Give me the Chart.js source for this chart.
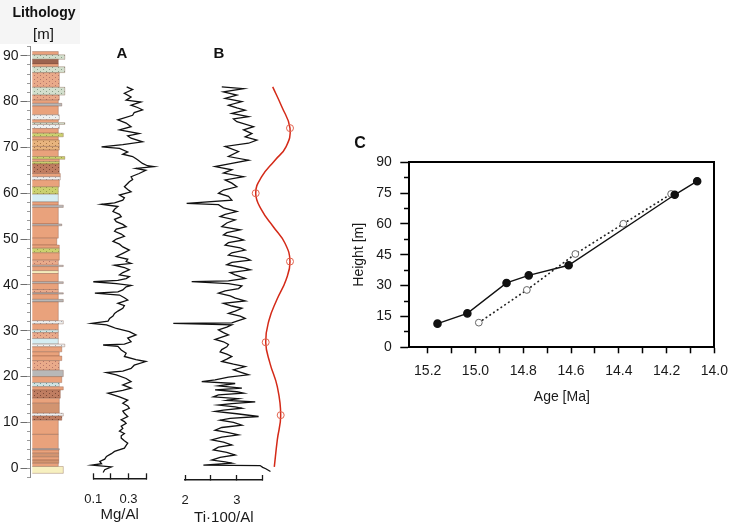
<!DOCTYPE html>
<html>
<head>
<meta charset="utf-8">
<script src="https://cdn.jsdelivr.net/npm/chart.js@4.4.0/dist/chart.umd.min.js"></script>
<style>
body { margin: 0; background: #fff; }
#wrap { position: relative; width: 737px; height: 525px; overflow: hidden; font-family: 'Liberation Sans', Arial, sans-serif; color: #111; }
canvas { position: absolute; left: 0; top: 0; }
.lbl { position: absolute; white-space: nowrap; line-height: 1; transform: translate(-50%, -50%); }
#litBg { position: absolute; left: 0; top: 0; width: 80px; height: 44px; background: #f5f5f5; }
</style>
</head>
<body>
<div id="wrap">
  <div id="litBg"></div>
  <canvas id="litho" width="737" height="560"></canvas>
  <canvas id="mg" width="737" height="560"></canvas>
  <canvas id="ti" width="737" height="560"></canvas>
  <canvas id="cycle" width="737" height="560"></canvas>
  <canvas id="age" width="737" height="560"></canvas>
  <div class="lbl" style="left:44px;top:12px;font-size:14px;font-weight:bold">Lithology</div>
  <div class="lbl" style="left:43.5px;top:33px;font-size:15px">[m]</div>
  <div class="lbl" style="left:122px;top:52px;font-size:15px;font-weight:bold">A</div>
  <div class="lbl" style="left:219px;top:52px;font-size:15px;font-weight:bold">B</div>
  <div class="lbl" style="left:360px;top:143px;font-size:16px;font-weight:bold">C</div>
</div>
<script>
// ---- lithology column (tops in m, base of column at -1.1 m) ----
const columnBase = -1.1;
const bedTop = [
  0.4, 1.1, 1.8, 2.5, 3.3, 4.0, 4.3, 7.4, 10.5, 11.4,
  12.0, 14.2, 15.3, 17.1, 17.8, 18.7, 20.0, 21.4, 23.5, 24.5,
  25.4, 26.5, 27.1, 28.3, 29.6, 30.2, 31.5, 32.2, 36.3, 36.85,
  38.0, 38.3, 39.0, 40.3, 40.7, 42.5, 43.1, 44.0, 44.3, 45.4,
  47.0, 48.0, 48.7, 50.2, 52.9, 53.3, 56.9, 57.4, 58.1, 59.8,
  61.4, 62.9, 63.6, 64.3, 66.4, 66.9, 67.4, 68.0, 69.4, 70.2,
  71.6, 72.3, 73.1, 74.1, 75.0, 75.4, 76.0, 77.1, 79.0, 79.6,
  80.3, 81.4, 83.1, 86.3, 87.6, 88.2, 89.2, 90.2, 90.9
];
const bedType = [
  'yellow', 'mud', 'brownish', 'mud', 'brownish', 'mud', 'gray', 'mud', 'mud', 'brownDot',
  'white', 'brownish', 'mud', 'brownDot', 'mud', 'blueDot', 'mud', 'gray', 'mudDot', 'mud',
  'mud', 'mud', 'white', 'blue', 'mudDot', 'blueDot', 'mud', 'white', 'mud', 'gray',
  'mud', 'gray', 'mudDot', 'mud', 'gray', 'mud', 'yellow', 'mud', 'gray', 'mudDot',
  'mud', 'yellowGreen', 'mud', 'mud', 'mud', 'gray', 'mud', 'gray', 'mud', 'blue',
  'yellowGreen', 'mud', 'white', 'mud', 'brownDot', 'yellowGreen', 'mud', 'yellowGreen', 'mud', 'tanDot',
  'tanDot', 'mud', 'yellowGreen', 'mud', 'white', 'greenDot', 'mud', 'white', 'mud', 'gray',
  'mud', 'mudDot', 'greenDot', 'mudDot', 'greenDot', 'mud', 'brown', 'greenDot', 'mud'
];
const bedSize = [
  6.2, 5.2, 5.3, 5.3, 5.3, 5.3, 5.4, 5.2, 5.2, 5.9,
  6.2, 5.4, 5.4, 5.6, 6.2, 5.4, 5.9, 6.2, 5.4, 5.9,
  5.4, 5.9, 6.5, 5.2, 5.2, 5.2, 5.2, 6.2, 5.2, 6.2,
  5.2, 6.2, 5.2, 5.2, 6.2, 5.2, 5.2, 5.2, 6.2, 5.2,
  5.4, 5.4, 5.4, 4.9, 5.2, 5.9, 5.2, 6.2, 5.2, 5.2,
  5.2, 5.4, 5.6, 5.6, 5.4, 5.4, 5.4, 6.5, 5.2, 5.4,
  5.4, 5.2, 6.2, 5.2, 5.4, 6.5, 5.2, 5.4, 5.2, 5.9,
  5.2, 5.4, 6.5, 5.4, 6.5, 5.2, 5.2, 6.5, 5.2
];
const heightTicks = [0, 10, 20, 30, 40, 50, 60, 70, 80, 90];

// ---- A: Mg/Al ----
const mgHeight = [
  83.2, 82.6, 81.8, 81.0, 80.3, 79.9, 79.2, 78.7, 78.2, 77.6,
  77.0, 76.0, 75.3, 74.5, 73.8, 73.0, 72.5, 72.0, 71.2, 70.6,
  70.1, 69.8, 69.0, 68.5, 68.0, 67.3, 66.5, 66.0, 65.8, 65.4,
  65.0, 64.3, 63.6, 63.0, 62.5, 61.8, 61.4, 60.8, 60.3, 59.6,
  59.0, 58.5, 57.9, 57.6, 57.1, 56.5, 56.0, 55.4, 54.9, 54.3,
  53.8, 53.2, 52.7, 52.2, 51.7, 51.1, 50.6, 50.0, 49.5, 48.9,
  48.3, 47.6, 46.9, 46.2, 45.6, 45.1, 44.7, 44.3, 43.8, 43.3,
  42.7, 42.2, 41.8, 41.4, 41.0, 40.7, 40.3, 39.9, 39.6, 38.9,
  38.5, 38.2, 37.8, 37.2, 36.7, 36.0, 35.5, 34.9, 34.3, 33.8,
  33.2, 32.7, 32.1, 31.6, 31.3, 30.9, 30.5, 29.8, 29.1, 28.4,
  27.6, 27.1, 26.9, 26.6, 25.8, 25.1, 24.4, 23.7, 23.3, 22.5,
  21.8, 21.2, 20.9, 20.4, 19.6, 18.9, 18.2, 17.5, 17.0, 16.4,
  15.6, 14.9, 14.2, 13.6, 13.1, 12.5, 12.0, 11.3, 10.6, 10.2,
  9.8, 9.2, 8.7, 8.1, 7.6, 7.1, 6.6, 6.0, 5.5, 5.0,
  4.4, 3.7, 3.2, 2.6, 2.0, 1.5, 1.0, 0.7, 0.3, -0.3,
  -0.9
];
const mgAl = [
  0.290, 0.324, 0.277, 0.315, 0.287, 0.371, 0.315, 0.352, 0.380, 0.333,
  0.324, 0.240, 0.287, 0.315, 0.249, 0.361, 0.296, 0.315, 0.380, 0.268,
  0.147, 0.249, 0.296, 0.268, 0.324, 0.352, 0.380, 0.408, 0.445, 0.343,
  0.399, 0.361, 0.315, 0.324, 0.305, 0.287, 0.277, 0.296, 0.315, 0.249,
  0.277, 0.268, 0.221, 0.147, 0.240, 0.221, 0.212, 0.249, 0.259, 0.221,
  0.231, 0.268, 0.287, 0.231, 0.221, 0.259, 0.277, 0.231, 0.212, 0.249,
  0.268, 0.305, 0.268, 0.231, 0.296, 0.287, 0.315, 0.221, 0.277, 0.305,
  0.268, 0.249, 0.305, 0.287, 0.240, 0.100, 0.231, 0.315, 0.287, 0.268,
  0.240, 0.109, 0.249, 0.277, 0.296, 0.240, 0.277, 0.268, 0.240, 0.221,
  0.212, 0.193, 0.184, 0.091, 0.175, 0.203, 0.231, 0.305, 0.343, 0.296,
  0.315, 0.277, 0.156, 0.240, 0.259, 0.287, 0.277, 0.343, 0.399, 0.333,
  0.315, 0.268, 0.175, 0.231, 0.287, 0.315, 0.268, 0.315, 0.268, 0.184,
  0.249, 0.296, 0.268, 0.296, 0.305, 0.268, 0.277, 0.296, 0.259, 0.277,
  0.287, 0.259, 0.268, 0.249, 0.277, 0.259, 0.259, 0.277, 0.296, 0.287,
  0.277, 0.221, 0.203, 0.175, 0.165, 0.137, 0.147, 0.092, 0.203, 0.165,
  0.156
];
const mgTicks = [0.1, 0.2, 0.3, 0.4];
const mgTickLabels = ['0.1', '', '0.3', ''];

// ---- B: Ti*100/Al ----
const tiHeight = [
  83.2, 82.8, 82.1, 81.4, 80.7, 80.0, 79.2, 78.6, 78.1, 77.4,
  76.7, 76.2, 75.6, 74.5, 73.8, 73.0, 72.3, 71.6, 70.9, 70.2,
  69.1, 68.0, 67.2, 66.5, 65.8, 65.1, 64.4, 63.6, 62.9, 62.2,
  61.4, 60.7, 60.0, 59.3, 58.5, 57.8, 57.5, 56.8, 56.0, 55.4,
  54.9, 54.2, 53.5, 52.7, 52.0, 51.4, 50.9, 50.3, 49.8, 49.2,
  48.7, 48.1, 47.6, 47.0, 46.5, 45.9, 45.4, 44.9, 44.4, 43.8,
  43.3, 42.7, 42.2, 41.4, 40.9, 40.7, 40.3, 39.8, 39.2, 38.7,
  38.2, 37.6, 37.1, 36.5, 36.0, 35.4, 34.9, 34.3, 33.8, 33.2,
  32.7, 32.1, 31.7, 31.6, 31.3, 30.8, 30.2, 29.6, 29.1, 28.6,
  28.1, 27.6, 27.0, 26.5, 25.9, 25.4, 24.9, 24.4, 23.8, 23.3,
  22.7, 22.2, 21.5, 21.0, 20.4, 19.9, 19.3, 18.9, 18.5, 18.0,
  17.5, 17.1, 16.7, 16.4, 16.0, 15.6, 15.2, 14.8, 14.5, 14.1,
  13.8, 13.4, 13.1, 12.7, 12.4, 11.9, 11.3, 10.9, 10.5, 10.0,
  9.4, 8.9, 8.3, 7.8, 7.3, 6.8, 6.2, 5.7, 5.1, 4.6,
  4.0, 3.5, 2.9, 2.4, 1.8, 1.4, 1.1, 0.7, 0.6, 0.2,
  -0.1, -0.7
];
const tiAl = [
  2.710, 3.130, 2.743, 3.001, 2.775, 3.098, 2.839, 3.001, 3.162, 2.904,
  3.227, 2.936, 3.001, 3.324, 3.130, 3.291, 3.162, 3.388, 3.227, 2.775,
  3.033, 2.839, 3.227, 2.904, 2.581, 2.904, 2.743, 3.130, 2.775, 2.904,
  3.001, 2.743, 2.646, 2.839, 2.904, 2.032, 2.646, 2.743, 3.001, 2.775,
  2.678, 2.969, 2.807, 2.710, 3.066, 2.807, 2.743, 3.001, 3.130, 2.839,
  2.775, 3.066, 3.162, 2.904, 2.839, 3.162, 3.259, 2.904, 2.807, 3.098,
  3.259, 2.872, 2.969, 3.162, 2.839, 2.129, 2.839, 3.098, 3.033, 2.775,
  2.646, 2.872, 2.969, 3.162, 2.743, 2.904, 3.098, 2.969, 2.839, 3.066,
  3.162, 3.001, 2.904, 1.774, 2.904, 2.807, 2.646, 2.743, 2.839, 2.710,
  2.581, 2.743, 2.839, 2.807, 2.710, 2.678, 2.807, 2.904, 2.807, 2.710,
  2.936, 3.162, 2.936, 3.066, 3.227, 2.839, 2.581, 2.323, 2.969, 2.646,
  3.098, 2.581, 3.001, 3.130, 2.646, 2.549, 3.033, 2.807, 3.356, 2.904,
  2.646, 2.969, 3.098, 2.743, 2.581, 3.001, 3.421, 2.872, 2.678, 2.936,
  3.098, 2.710, 2.581, 2.839, 3.033, 2.710, 2.517, 2.743, 2.904, 2.646,
  2.549, 2.807, 2.969, 2.678, 2.517, 2.775, 2.904, 2.355, 3.450, 3.500,
  3.560, 3.650
];
const tiTicks = [2, 2.5, 3, 3.5];
const tiTickLabels = ['2', '', '3', ''];

// ---- tuning curve next to B (relative amplitude, no axis) ----
const cycleHeight = [83.2, 78.9, 74.2, 70.1, 67.2, 63.6, 60.0, 56.3, 52.7, 49.1, 45.1, 41.1, 36.7, 32.3, 27.5, 22.9, 17.8, 11.6, 6.2, 0.3];
const cyclePos = [0.454, 0.634, 0.80, 0.72, 0.50, 0.234, 0.114, 0.234, 0.466, 0.70, 0.80, 0.72, 0.534, 0.38, 0.314, 0.40, 0.546, 0.614, 0.546, 0.486];
const tieHeight = [74.2, 60.0, 45.1, 27.5, 11.6];
const tiePos = [0.80, 0.114, 0.80, 0.314, 0.614];

// ---- C: age model ----
const ageSolid = [15.159, 15.034, 14.870, 14.777, 14.610, 14.166, 14.072];
const heightSolid = [11.5, 16.5, 31.3, 35.0, 39.9, 74.2, 80.8];
const ageOpen = [14.986, 14.785, 14.582, 14.381, 14.181];
const heightOpen = [12.0, 27.9, 45.4, 60.1, 74.6];
const ageTicks = [15.2, 15.1, 15.0, 14.9, 14.8, 14.7, 14.6, 14.5, 14.4, 14.3, 14.2, 14.1, 14.0];
const ageTickLabels = ['15.2', '', '15.0', '', '14.8', '', '14.6', '', '14.4', '', '14.2', '', '14.0'];
const heightTicksC = [0, 15, 30, 45, 60, 75, 90];
const heightMinorC = [7.5, 22.5, 37.5, 52.5, 67.5, 82.5];

Chart.defaults.font.family = "'Liberation Sans', Arial, sans-serif";
Chart.defaults.color = '#1a1a1a';
Chart.defaults.animation = false;
Chart.defaults.events = [];
Chart.defaults.plugins.legend.display = false;
Chart.defaults.plugins.tooltip.enabled = false;

const CW = 737, CH = 560;

// padding so that the plot area lands on the given page pixels
function pad(left, right, top, bottom) {
  return { left: left, right: CW - right, top: top, bottom: CH - bottom };
}
function useTicks(values) {
  return function (scale) { scale.ticks = values.map(v => ({ value: v })); };
}
function zeroWidth(scale) { scale.width = 0; }
function zeroHeight(scale) { scale.height = 0; }

function dotted(base, dot) {
  const c = document.createElement('canvas');
  c.width = 6; c.height = 4;
  const g = c.getContext('2d');
  g.fillStyle = base; g.fillRect(0, 0, 6, 4);
  g.fillStyle = dot; g.fillRect(1, 1, 1, 1); g.fillRect(4, 3, 1, 1);
  return g.createPattern(c, 'repeat');
}

const litStyle = {
  mud: '#e9a27c',
  mudDot: dotted('#e9aa8a', '#b5766a'),
  brown: '#9c634e',
  brownDot: dotted('#bf7d61', '#7c4a38'),
  brownish: '#d29470',
  greenDot: dotted('#d3dfcd', '#889f88'),
  yellowGreen: dotted('#cbd16f', '#98a04a'),
  blue: '#d5edf2',
  blueDot: dotted('#cfe3e3', '#6b9f9f'),
  gray: '#b8b8b8',
  white: dotted('#eef0f0', '#a9b0b8'),
  tanDot: dotted('#e8b47e', '#a87848'),
  yellow: '#f7f0c0'
};

const heightMinor = [];
for (let h = -2; h <= 92; h += 2) heightMinor.push(h);

// lithology
const bedSets = bedTop.map(function (top, i) {
  const base = i === 0 ? columnBase : bedTop[i - 1];
  const w = bedSize[i];
  return {
    data: [{ x: 0, y: base }, { x: w, y: base }, { x: w, y: top }, { x: 0, y: top }],
    showLine: true,
    fill: 'shape',
    backgroundColor: litStyle[bedType[i]],
    borderColor: 'rgba(120,75,55,0.55)',
    borderWidth: 0.6,
    pointRadius: 0,
    tension: 0
  };
});

new Chart(document.getElementById('litho'), {
  type: 'scatter',
  data: { datasets: bedSets },
  options: {
    responsive: false,
    layout: { padding: pad(0, 72.3, 46.5, 477.5) },
    scales: {
      x: { type: 'linear', min: -0.36, max: 8, display: false },
      y: {
        type: 'linear', min: -2, max: 92,
        afterBuildTicks: useTicks(heightTicks),
        afterFit: function (s) { s.width = 30.5; },
        grid: { drawOnChartArea: false, tickLength: 10, color: '#6e6e6e' },
        border: { color: '#8a8a8a', width: 1 },
        ticks: { padding: 2, font: { size: 14 }, color: '#1a1a1a' }
      },
      yMinor: {
        type: 'linear', position: { x: -0.36 }, min: -2, max: 92,
        afterBuildTicks: useTicks(heightMinor), afterFit: zeroWidth,
        grid: { drawOnChartArea: false, tickLength: 4, color: '#9a9a9a' },
        border: { display: false },
        ticks: { display: false }
      }
    }
  }
});

function profileChart(id, heights, values, area, yMin, xMin, xMax, ticks, labels, title, axisH) {
  return new Chart(document.getElementById(id), {
    type: 'scatter',
    data: {
      datasets: [{
        data: heights.map((h, i) => ({ x: values[i], y: h })),
        showLine: true,
        borderColor: '#111',
        borderWidth: 1.3,
        pointRadius: 0,
        tension: 0,
        clip: false
      }]
    },
    options: {
      responsive: false,
      layout: { padding: pad(area[0], area[1], area[2], area[3] + axisH) },
      scales: {
        x: {
          type: 'linear', min: xMin, max: xMax,
          afterBuildTicks: useTicks(ticks),
          afterFit: function (s) { s.height = axisH; },
          ticks: { callback: (v, i) => labels[i], padding: 18, font: { size: 13 }, maxRotation: 0, autoSkip: false },
          grid: { drawOnChartArea: false, tickLength: -5, color: '#1a1a1a', tickWidth: 1.3 },
          border: { color: '#1a1a1a', width: 1.5 },
          title: { display: true, text: title, font: { size: 15 }, padding: 0 }
        },
        y: { type: 'linear', min: yMin, max: 92, display: false }
      }
    }
  });
}

profileChart('mg', mgHeight, mgAl, [93.3, 146, 46.5, 478.3], -2.17, 0.1, 0.4, mgTicks, mgTickLabels, 'Mg/Al', 45.7);
profileChart('ti', tiHeight, tiAl, [185, 262.7, 46.5, 480], -2.55, 2, 3.5, tiTicks, tiTickLabels, 'Ti·100/Al', 47.3);

// tuning curve
new Chart(document.getElementById('cycle'), {
  type: 'scatter',
  data: {
    datasets: [
      {
        data: tieHeight.map((h, i) => ({ x: tiePos[i], y: h })),
        pointRadius: 3.5,
        pointBackgroundColor: 'rgba(255,255,255,0)',
        pointBorderColor: '#e2634e',
        pointBorderWidth: 1,
        clip: false
      },
      {
        data: cycleHeight.map((h, i) => ({ x: cyclePos[i], y: h })),
        showLine: true,
        borderColor: '#d42a18',
        borderWidth: 1.5,
        pointRadius: 0,
        tension: 0.45,
        clip: false
      }
    ]
  },
  options: {
    responsive: false,
    layout: { padding: pad(250, 300, 46.5, 477.5) },
    scales: {
      x: { type: 'linear', min: 0, max: 1, display: false },
      y: { type: 'linear', min: -2, max: 92, display: false }
    }
  }
});

// C: age-height
const ageLeft = 15.277;
new Chart(document.getElementById('age'), {
  type: 'scatter',
  data: {
    datasets: [
      {
        data: ageSolid.map((a, i) => ({ x: a, y: heightSolid[i] })),
        showLine: true,
        borderColor: '#111',
        borderWidth: 1.4,
        pointRadius: 3.6,
        pointBackgroundColor: '#111',
        pointBorderColor: '#111',
        clip: false
      },
      {
        data: ageOpen.map((a, i) => ({ x: a, y: heightOpen[i] })),
        showLine: true,
        borderColor: '#222',
        borderWidth: 1.7,
        borderDash: [0.5, 4],
        borderCapStyle: 'round',
        pointRadius: 3.4,
        pointBackgroundColor: '#fff',
        pointBorderColor: '#666',
        pointBorderWidth: 1,
        clip: false
      }
    ]
  },
  options: {
    responsive: false,
    layout: { padding: pad(409.3 - 59, 722.7, 162.3, 347.3 + 58) },
    scales: {
      x: {
        type: 'linear', reverse: true, min: 14.0, max: ageLeft,
        afterBuildTicks: useTicks(ageTicks),
        afterFit: function (s) { s.height = 58; },
        ticks: { callback: (v, i) => ageTickLabels[i], padding: 9, font: { size: 14 }, maxRotation: 0, autoSkip: false },
        grid: { drawOnChartArea: false, tickLength: 6, color: '#000', tickWidth: 1.5 },
        border: { color: '#000', width: 2 },
        title: { display: true, text: 'Age [Ma]', font: { size: 14 }, padding: 0 }
      },
      xTop: {
        type: 'linear', position: 'top', reverse: true, min: 14.0, max: ageLeft,
        afterFit: zeroHeight,
        grid: { display: false }, ticks: { display: false },
        border: { color: '#000', width: 2 }
      },
      y: {
        type: 'linear', min: 0, max: 90,
        afterBuildTicks: useTicks(heightTicksC),
        afterFit: function (s) { s.width = 59; },
        ticks: { padding: 8.6, font: { size: 14 } },
        grid: { drawOnChartArea: false, tickLength: 9, color: '#000', tickWidth: 1.5 },
        border: { color: '#000', width: 2 },
        title: { display: true, text: 'Height [m]', font: { size: 14 }, padding: 0 }
      },
      yMinor: {
        type: 'linear', position: { x: ageLeft }, min: 0, max: 90,
        afterBuildTicks: useTicks(heightMinorC), afterFit: zeroWidth,
        grid: { drawOnChartArea: false, tickLength: 5, color: '#000', tickWidth: 1.5 },
        border: { display: false }, ticks: { display: false }
      },
      yRight: {
        type: 'linear', position: 'right', min: 0, max: 90,
        afterFit: zeroWidth,
        grid: { display: false }, ticks: { display: false },
        border: { color: '#000', width: 2 }
      }
    }
  }
});
</script>
</body>
</html>
